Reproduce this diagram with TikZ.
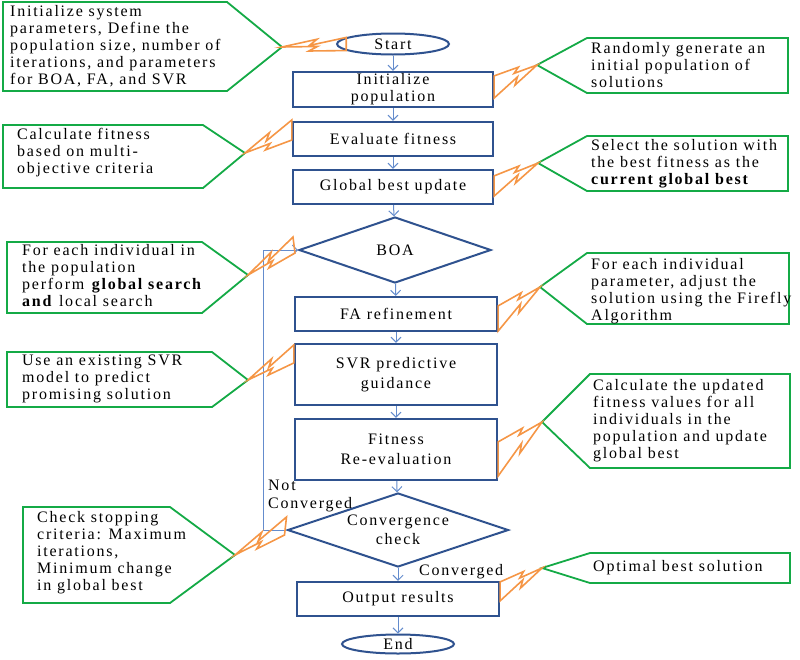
\documentclass[tikz,border=0pt]{standalone}
\usepackage{fontspec}
\setmainfont{Liberation Serif}[LetterSpace=11]
\usetikzlibrary{shapes.geometric,arrows.meta,calc}

\definecolor{boxblue}{RGB}{47,82,143}
\definecolor{linkblue}{RGB}{100,140,205}
\definecolor{notegreen}{RGB}{20,170,70}
\definecolor{boltorange}{RGB}{245,150,70}

\newcommand{\flowfont}{\fontsize{16}{17}\selectfont}

\tikzset{
  flowbox/.style={rectangle, draw=boxblue, line width=2.2pt, minimum width=200pt,
    minimum height=34pt, inner sep=0pt, align=center, font=\flowfont},
  decision/.style={diamond, draw=boxblue, line width=2pt, aspect=3, inner sep=0pt,
    align=center, font=\flowfont},
  terminal/.style={ellipse, draw=boxblue, line width=2pt, minimum width=112pt,
    minimum height=21pt, inner sep=0pt, font=\flowfont},
  flowarrow/.style={draw=linkblue, line width=1pt, -{Straight Barb[length=5pt,width=10pt]}},
  note/.style={anchor=west, align=left, inner sep=0pt, font=\flowfont},
  callout/.style={draw=notegreen, line width=1.8pt},
  boltline/.style={draw=boltorange, line width=1.6pt, line join=miter},
  lbl/.style={anchor=west, align=left, inner sep=0pt, font=\fontsize{16}{18}\selectfont},
}

% lightning bolt from a callout tip to two points on a box
\newcommand{\bolt}[3]{%
  \draw[boltline] (#1)
    -- ($(#1)!0.55!(#2)!2.5pt!90:(#2)$)
    -- ($(#1)!0.42!(#2)!2.5pt!-90:(#2)$)
    -- (#2) -- (#3)
    -- ($(#1)!0.42!(#3)!2.5pt!-90:(#3)$)
    -- ($(#1)!0.55!(#3)!2.5pt!90:(#3)$)
    -- cycle;}

\begin{document}
\begin{tikzpicture}[x=1pt, y=-1pt]
  \useasboundingbox (0,0) rectangle (800,659);

  % Main flow
  \node[terminal] (start) at (393,44) {Start};
  \node[flowbox, minimum height=35pt] (init) at (393,89.5) {Initialize\\population};
  \node[flowbox] (evalfit) at (393,139) {Evaluate fitness};
  \node[flowbox] (gbest) at (393,187) {Global best update};
  \node[decision, minimum width=192pt, minimum height=66pt] (boa) at (395,250) {BOA};
  \node[flowbox, minimum width=202pt] (fa) at (396,314) {FA refinement};
  \node[flowbox, minimum width=202pt, minimum height=61pt,
    font=\fontsize{16}{20}\selectfont] (svr) at (396,374.5) {SVR predictive\\guidance};
  \node[flowbox, minimum width=202pt, minimum height=61pt,
    font=\fontsize{16}{20}\selectfont] (reeval) at (396,449.5) {Fitness\\Re-evaluation};
  \node[decision, minimum width=221pt, minimum height=74pt,
    font=\fontsize{16}{19}\selectfont] (conv) at (398,530) {Convergence\\check};
  \node[flowbox, minimum width=202pt] (output) at (398,599) {Output results};
  \node[terminal, minimum height=19pt] (finish) at (398,644) {End};

  \draw[flowarrow] (start) -- (init);
  \draw[flowarrow] (init) -- (evalfit);
  \draw[flowarrow] (evalfit) -- (gbest);
  \draw[flowarrow] (gbest) -- (boa);
  \draw[flowarrow] (boa) -- (fa);
  \draw[flowarrow] (fa) -- (svr);
  \draw[flowarrow] (svr) -- (reeval);
  \draw[flowarrow] (reeval) -- (conv);
  \draw[flowarrow] (conv) -- (output);
  \draw[flowarrow] (output) -- (finish);
  \draw[flowarrow] (conv.west) -- ++(-23,0) |- (boa.west);

  \node[lbl] (notconv) at (268,496) {Not\\Converged};
  \node[lbl] (conved) at (419,572) {Converged};

  % Callouts on the left
  \coordinate (t1) at (282,47);
  \draw[callout] (3,2) -- (227,2) -- (t1) -- (227,91) -- (3,91) -- cycle;
  \node[note] (n1) at (10,46.5) {Initialize system\\parameters, Define the\\population size, number of\\iterations, and parameters\\for BOA, FA, and SVR};

  \coordinate (t3) at (245,153);
  \draw[callout] (3,125) -- (203,125) -- (t3) -- (203,188) -- (3,188) -- cycle;
  \node[note] (n3) at (17,153) {Calculate fitness\\based on multi-\\objective criteria};

  \coordinate (t5) at (248,275);
  \draw[callout] (7,242) -- (202,242) -- (t5) -- (202,313) -- (7,313) -- cycle;
  \node[note] (n5) at (22,276) {For each individual in\\the population\\perform \textbf{global search}\\\textbf{and} local search};

  \coordinate (t7) at (248,380);
  \draw[callout] (7,352) -- (212,352) -- (t7) -- (212,407) -- (7,407) -- cycle;
  \node[note] (n7) at (22,378.5) {Use an existing SVR\\model to predict\\promising solution};

  \coordinate (t9) at (235,555);
  \draw[callout] (23,507) -- (170,507) -- (t9) -- (170,603) -- (23,603) -- cycle;
  \node[note] (n9) at (37,553) {Check stopping\\criteria: Maximum\\iterations,\\Minimum change\\in global best};

  % Callouts on the right
  \coordinate (t2) at (537,65);
  \draw[callout] (788,38) -- (587,38) -- (t2) -- (587,93) -- (788,93) -- cycle;
  \node[note] (n2) at (591,65.5) {Randomly generate an\\initial population of\\solutions};

  \coordinate (t4) at (538,163);
  \draw[callout] (788,136) -- (587,136) -- (t4) -- (587,191) -- (788,191) -- cycle;
  \node[note] (n4) at (591,164) {Select the solution with\\the best fitness as the\\\textbf{current global best}};

  \coordinate (t6) at (540,287);
  \draw[callout] (789,253) -- (587,253) -- (t6) -- (587,324) -- (789,324) -- cycle;
  \node[note] (n6) at (591,291) {For each individual\\parameter, adjust the\\solution using the Firefly\\Algorithm};

  \coordinate (t8) at (542,422);
  \draw[callout] (790,374) -- (590,374) -- (t8) -- (590,468) -- (790,468) -- cycle;
  \node[note] (n8) at (593,421) {Calculate the updated\\fitness values for all\\individuals in the\\population and update\\global best};

  \coordinate (t10) at (542,568);
  \draw[callout] (790,553) -- (590,553) -- (t10) -- (590,583) -- (790,583) -- cycle;
  \node[note] (n10) at (593,568) {Optimal best solution};

  % Bolts
  \coordinate (b1a) at (start.172);
  \coordinate (b1b) at (start.188);
  \coordinate (b2a) at ($(init.north east)+(0,5)$);
  \coordinate (b2b) at ($(init.south east)+(0,-10)$);
  \coordinate (b3a) at ($(evalfit.north west)+(0,-1)$);
  \coordinate (b3b) at ($(evalfit.west)+(0,1)$);
  \coordinate (b4a) at ($(gbest.north east)+(0,7)$);
  \coordinate (b4b) at ($(gbest.south east)+(0,-9)$);
  \coordinate (b5a) at ($(boa.west)+(-5,-13)$);
  \coordinate (b5b) at ($(boa.west)+(-3,3)$);
  \coordinate (b6a) at ($(fa.north east)+(0,10)$);
  \coordinate (b6b) at ($(fa.south east)+(0,-1)$);
  \coordinate (b7a) at ($(svr.north west)+(0,2)$);
  \coordinate (b7b) at ($(svr.north west)+(0,20)$);
  \coordinate (b8a) at ($(reeval.north east)+(0,24)$);
  \coordinate (b8b) at ($(reeval.south east)+(0,-5)$);
  \coordinate (b9a) at ($(conv.west)+(0,-13)$);
  \coordinate (b9b) at ($(conv.west)+(-2,5)$);
  \coordinate (b10a) at ($(output.north east)+(0,1)$);
  \coordinate (b10b) at ($(output.north east)+(0,20)$);
  \bolt{t1}{b1a}{b1b}
  \bolt{t2}{b2a}{b2b}
  \bolt{t3}{b3a}{b3b}
  \bolt{t4}{b4a}{b4b}
  \bolt{t5}{b5a}{b5b}
  \bolt{t6}{b6a}{b6b}
  \bolt{t7}{b7a}{b7b}
  \bolt{t8}{b8a}{b8b}
  \bolt{t9}{b9a}{b9b}
  \bolt{t10}{b10a}{b10b}
\end{tikzpicture}
\end{document}
